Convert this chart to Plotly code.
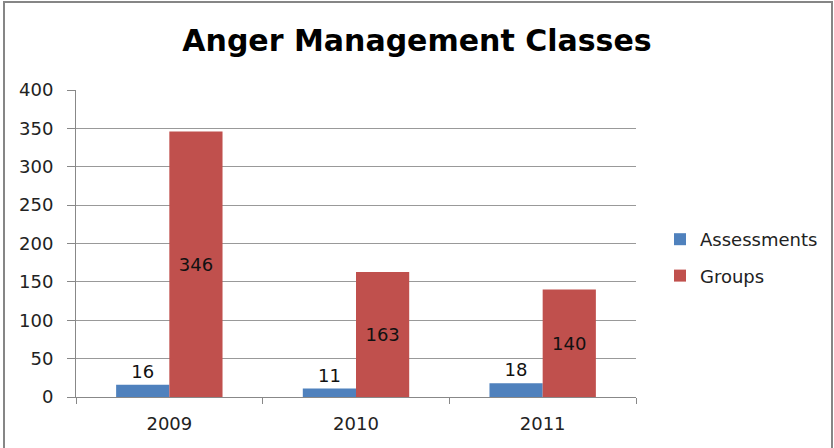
import plotly.graph_objects as go

categories = ["2009", "2010", "2011"]
assessments = [16, 11, 18]
groups = [346, 163, 140]
y_ticks = [0, 50, 100, 150, 200, 250, 300, 350, 400]

W, H = 834, 448
L, R, T, B = 76, 198, 90, 51
pw = W - L - R
ph = H - T - B

font = "DejaVu Sans"

fig = go.Figure()
fig.add_trace(go.Bar(
    name="Assessments", x=categories, y=assessments, legendgroup="a",
    marker=dict(color="#4F81BD", line=dict(width=0)),
    text=[str(v) for v in assessments], textposition="outside",
    textfont=dict(family=font, size=18, color="#111111"),
    cliponaxis=False,
))
fig.add_trace(go.Bar(
    name="Groups", x=categories, y=groups, legendgroup="g",
    marker=dict(color="#C0504D", line=dict(width=0)),
    text=[str(v) for v in groups], textposition="inside",
    insidetextanchor="middle",
    textfont=dict(family=font, size=18, color="#111111"),
))

def px_x(x):
    return (x - L) / pw

def px_y(y):
    return (H - B - y) / ph

fig.add_shape(type="rect", xref="paper", yref="paper",
              x0=px_x(4), x1=px_x(832), y0=px_y(460), y1=px_y(2),
              line=dict(color="#868686", width=2), fillcolor="rgba(0,0,0,0)",
              layer="below")

fig.update_layout(
    width=W, height=H,
    margin=dict(l=L, r=R, t=T, b=B, autoexpand=False),
    paper_bgcolor="white", plot_bgcolor="white",
    barmode="group", bargap=0.43, bargroupgap=0,
    title=dict(text="<b>Anger Management Classes</b>", x=0.5, xref="container",
               xanchor="center", y=1 - 40 / H, yref="container", yanchor="middle",
               font=dict(family="DejaVu Sans", size=30, color="#000000")),
    legend=dict(x=px_x(660), xanchor="left", y=px_y(221), yanchor="top",
                font=dict(family=font, size=18, color="#222222"),
                tracegroupgap=10, itemwidth=30, bgcolor="rgba(0,0,0,0)",
                traceorder="grouped"),
    showlegend=True,
)
fig.update_xaxes(
    type="category", tickson="boundaries", ticks="outside", ticklen=6,
    tickcolor="#888888", showline=True, linecolor="#888888", linewidth=1,
    showgrid=False, tickfont=dict(family=font, size=18, color="#222222"),
    ticklabelstandoff=10,
)
fig.update_yaxes(
    range=[0, 400], tickvals=y_ticks, ticktext=[str(v) for v in y_ticks],
    ticks="outside", ticklen=8, tickcolor="#888888",
    showline=True, linecolor="#888888", linewidth=1,
    showgrid=True, gridcolor="#999999", gridwidth=1, zeroline=False,
    tickfont=dict(family=font, size=18, color="#222222"),
    ticklabelstandoff=10,
)

fig.write_html("out.html", config={"displayModeBar": False},
               post_script="document.body.style.margin='0';")
